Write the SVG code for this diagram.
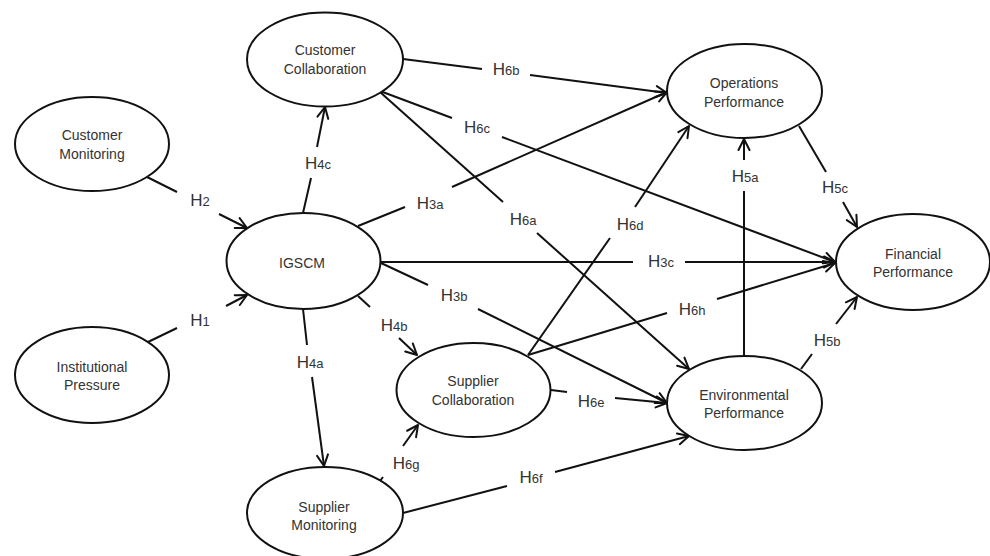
<svg xmlns="http://www.w3.org/2000/svg" width="990" height="556" viewBox="0 0 990 556">
<defs>
<marker id="arr" markerUnits="userSpaceOnUse" viewBox="0 0 14 14" refX="13" refY="7" markerWidth="14" markerHeight="14" orient="auto">
<path d="M2,1.5 L13,7 L2,12.5" fill="none" stroke="#111" stroke-width="2" stroke-linecap="round" stroke-linejoin="round"/>
</marker>
<style>
.n ellipse{fill:#fff;stroke:#111;stroke-width:2}
.n text{font-family:"Liberation Sans",Arial,sans-serif;font-size:14px;fill:#333;text-anchor:middle}
#conn line{stroke:#111;stroke-width:2;fill:none}
#conn line.a{marker-end:url(#arr)}
.lb{font-family:"Liberation Sans",Arial,sans-serif;font-size:17px;fill:#333;text-anchor:middle}
.lb tspan{font-size:13px}
</style>
</defs>
<rect width="990" height="556" fill="#fff"/>
<g id="conn">
<line x1="147" y1="177" x2="177" y2="192"/><line class="a" x1="219" y1="214" x2="247" y2="228"/>
<line x1="303" y1="213" x2="311" y2="178"/><line class="a" x1="317" y1="147" x2="325" y2="107"/>
<line x1="148" y1="342" x2="177" y2="328"/><line class="a" x1="226" y1="306" x2="247" y2="295"/>
<line x1="303" y1="309" x2="307" y2="345"/><line class="a" x1="312" y1="377" x2="324" y2="466"/>
<line x1="358" y1="296" x2="370" y2="307"/><line class="a" x1="399" y1="338" x2="417" y2="355"/>
<line x1="358" y1="226" x2="405" y2="207"/><line class="a" x1="452" y1="187" x2="667" y2="92"/>
<line x1="403" y1="59" x2="482" y2="69"/><line class="a" x1="530" y1="75" x2="667" y2="93"/>
<line x1="380" y1="91" x2="452" y2="118"/><line class="a" x1="502" y1="137" x2="835" y2="262"/>
<line x1="380" y1="92" x2="503" y2="202"/><line class="a" x1="537" y1="233" x2="689" y2="369"/>
<line x1="380" y1="262" x2="633" y2="262"/><line class="a" x1="685" y1="262" x2="835" y2="262"/>
<line x1="381" y1="263" x2="428" y2="285"/><line class="a" x1="478" y1="309" x2="667" y2="403"/>
<line x1="744" y1="356" x2="744" y2="191"/><line class="a" x1="744" y1="160" x2="744" y2="139"/>
<line x1="799" y1="126" x2="826" y2="172"/><line class="a" x1="843" y1="202" x2="857" y2="227"/>
<line x1="801" y1="369" x2="812" y2="354"/><line class="a" x1="836" y1="324" x2="857" y2="297"/>
<line x1="528" y1="355" x2="610" y2="238"/><line class="a" x1="635" y1="207" x2="689" y2="126"/>
<line x1="528" y1="355" x2="667" y2="313"/><line class="a" x1="717" y1="299" x2="835" y2="263"/>
<line x1="551" y1="390" x2="567" y2="392"/><line class="a" x1="615" y1="398" x2="667" y2="403"/>
<line x1="380" y1="481" x2="383" y2="477"/><line class="a" x1="403" y1="446" x2="418" y2="425"/>
<line x1="403" y1="513" x2="507" y2="486"/><line class="a" x1="555" y1="472" x2="689" y2="436"/>
<text class="lb" x="200" y="206">H<tspan>2</tspan></text>
<text class="lb" x="318" y="169">H<tspan>4c</tspan></text>
<text class="lb" x="200" y="326">H<tspan>1</tspan></text>
<text class="lb" x="310" y="368">H<tspan>4a</tspan></text>
<text class="lb" x="394" y="331">H<tspan>4b</tspan></text>
<text class="lb" x="430" y="209">H<tspan>3a</tspan></text>
<text class="lb" x="506" y="75">H<tspan>6b</tspan></text>
<text class="lb" x="477" y="133">H<tspan>6c</tspan></text>
<text class="lb" x="523" y="225">H<tspan>6a</tspan></text>
<text class="lb" x="630" y="230">H<tspan>6d</tspan></text>
<text class="lb" x="661" y="267">H<tspan>3c</tspan></text>
<text class="lb" x="745" y="182">H<tspan>5a</tspan></text>
<text class="lb" x="835" y="193">H<tspan>5c</tspan></text>
<text class="lb" x="454" y="301">H<tspan>3b</tspan></text>
<text class="lb" x="692" y="315">H<tspan>6h</tspan></text>
<text class="lb" x="591" y="407">H<tspan>6e</tspan></text>
<text class="lb" x="406" y="469">H<tspan>6g</tspan></text>
<text class="lb" x="531" y="483">H<tspan>6f</tspan></text>
<text class="lb" x="827" y="346">H<tspan>5b</tspan></text>
</g>
<g id="customer-monitoring" class="n"><ellipse cx="92" cy="144" rx="77" ry="47"/><text x="92" y="140">Customer</text><text x="92" y="159">Monitoring</text></g>
<g id="customer-collaboration" class="n"><ellipse cx="325" cy="59.5" rx="78" ry="47"/><text x="325" y="55">Customer</text><text x="325" y="74">Collaboration</text></g>
<g id="igscm" class="n"><ellipse cx="303.5" cy="261" rx="77" ry="48"/><text x="302" y="268">IGSCM</text></g>
<g id="institutional-pressure" class="n"><ellipse cx="92" cy="375" rx="77" ry="48"/><text x="92" y="372">Institutional</text><text x="92" y="390">Pressure</text></g>
<g id="supplier-monitoring" class="n"><ellipse cx="325" cy="513" rx="78" ry="46"/><text x="324" y="512">Supplier</text><text x="324" y="530">Monitoring</text></g>
<g id="supplier-collaboration" class="n"><ellipse cx="473.5" cy="390" rx="77" ry="47"/><text x="473" y="386">Supplier</text><text x="473" y="405">Collaboration</text></g>
<g id="operations-performance" class="n"><ellipse cx="744.5" cy="91" rx="77.5" ry="47"/><text x="744" y="88">Operations</text><text x="744" y="107">Performance</text></g>
<g id="environmental-performance" class="n"><ellipse cx="744.5" cy="403" rx="77.5" ry="47"/><text x="744" y="400">Environmental</text><text x="744" y="418">Performance</text></g>
<g id="financial-performance" class="n"><ellipse cx="913" cy="262" rx="77" ry="48"/><text x="913" y="259">Financial</text><text x="913" y="277">Performance</text></g>
</svg>
